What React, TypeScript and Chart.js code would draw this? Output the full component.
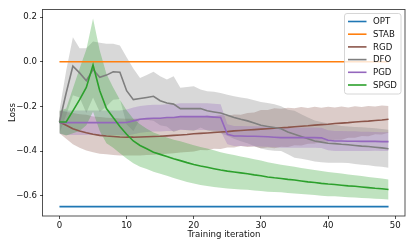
import React, { useEffect, useRef } from "react";
import { Chart, registerables } from "chart.js";

Chart.register(...registerables);

// ---------------- data ----------------
const iterations = [
  0, 1, 2, 3, 4, 5, 6, 7, 8, 9, 10, 11, 12, 13, 14, 15, 16, 17, 18, 19, 20, 21, 22, 23, 24,
  25, 26, 27, 28, 29, 30, 31, 32, 33, 34, 35, 36, 37, 38, 39, 40, 41, 42, 43, 44, 45, 46, 47, 48, 49,
];

const constantSpan = [0, 49];
const optLoss = [-0.649, -0.649];
const stabLoss = [0.0, 0.0];

const rgdMean = [
  -0.27, -0.285, -0.3, -0.31, -0.318, -0.325, -0.33, -0.333, -0.335, -0.337,
  -0.338, -0.338, -0.337, -0.336, -0.335, -0.334, -0.332, -0.33, -0.328, -0.326,
  -0.323, -0.321, -0.319, -0.317, -0.315, -0.313, -0.31, -0.308, -0.306, -0.304,
  -0.302, -0.3, -0.298, -0.296, -0.294, -0.291, -0.289, -0.287, -0.284, -0.282,
  -0.28, -0.277, -0.275, -0.273, -0.27, -0.268, -0.266, -0.263, -0.261, -0.258,
];
const rgdStd = [
  0.05, 0.06, 0.07, 0.075, 0.08, 0.08, 0.082, 0.082, 0.083, 0.083,
  0.082, 0.082, 0.083, 0.082, 0.082, 0.08, 0.08, 0.08, 0.079, 0.078,
  0.079, 0.074, 0.078, 0.073, 0.076, 0.071, 0.074, 0.07, 0.076, 0.076,
  0.086, 0.084, 0.09, 0.085, 0.088, 0.083, 0.086, 0.08, 0.082, 0.076,
  0.078, 0.072, 0.074, 0.068, 0.071, 0.065, 0.068, 0.062, 0.065, 0.06,
];

const dfoMean = [
  -0.27, -0.14, -0.02, -0.05, -0.085, -0.035, -0.07, -0.06, -0.045, -0.047,
  -0.13, -0.17, -0.165, -0.16, -0.155, -0.175, -0.185, -0.19, -0.21, -0.21,
  -0.21, -0.21, -0.22, -0.225, -0.23, -0.24, -0.25, -0.258, -0.265, -0.275,
  -0.285, -0.29, -0.295, -0.3, -0.315, -0.325, -0.335, -0.345, -0.355, -0.36,
  -0.365, -0.367, -0.37, -0.372, -0.375, -0.378, -0.38, -0.383, -0.386, -0.39,
];
const dfoStd = [
  0.05, 0.1, 0.13, 0.11, 0.145, 0.125, 0.155, 0.14, 0.125, 0.12,
  0.15, 0.14, 0.092, 0.1, 0.11, 0.11, 0.105, 0.125, 0.093, 0.097,
  0.1, 0.085, 0.088, 0.09, 0.09, 0.092, 0.095, 0.098, 0.1, 0.102,
  0.104, 0.105, 0.104, 0.1, 0.1, 0.105, 0.1, 0.095, 0.092, 0.09,
  0.088, 0.085, 0.082, 0.082, 0.083, 0.084, 0.084, 0.085, 0.085, 0.085,
];

const pgdMean = [
  -0.273, -0.273, -0.273, -0.273, -0.273, -0.273, -0.273, -0.273, -0.273, -0.273,
  -0.272, -0.265, -0.258, -0.255, -0.253, -0.253, -0.25, -0.25, -0.246, -0.246,
  -0.246, -0.246, -0.246, -0.248, -0.25, -0.325, -0.333, -0.333, -0.334, -0.334,
  -0.335, -0.336, -0.338, -0.34, -0.34, -0.34, -0.34, -0.34, -0.34, -0.341,
  -0.352, -0.355, -0.355, -0.356, -0.356, -0.357, -0.357, -0.357, -0.358, -0.358,
];
const pgdStd = [
  0.05, 0.055, 0.055, 0.055, 0.055, 0.055, 0.055, 0.055, 0.055, 0.055,
  0.058, 0.06, 0.06, 0.06, 0.06, 0.06, 0.06, 0.06, 0.06, 0.06,
  0.06, 0.06, 0.06, 0.06, 0.06, 0.045, 0.045, 0.045, 0.045, 0.045,
  0.045, 0.045, 0.045, 0.045, 0.045, 0.045, 0.045, 0.045, 0.045, 0.045,
  0.045, 0.045, 0.045, 0.044, 0.044, 0.043, 0.043, 0.042, 0.042, 0.042,
];

const spgdMean = [
  -0.27, -0.27, -0.22, -0.17, -0.115, -0.015, -0.13, -0.21, -0.25, -0.29,
  -0.325, -0.355, -0.375, -0.39, -0.405, -0.415, -0.425, -0.435, -0.443, -0.452,
  -0.46, -0.467, -0.473, -0.479, -0.485, -0.49, -0.494, -0.498, -0.502, -0.507,
  -0.511, -0.516, -0.52, -0.523, -0.527, -0.53, -0.534, -0.538, -0.541, -0.545,
  -0.548, -0.55, -0.553, -0.556, -0.558, -0.561, -0.564, -0.567, -0.569, -0.572,
];
const spgdStd = [
  0.05, 0.06, 0.1, 0.14, 0.17, 0.209, 0.18, 0.155, 0.135, 0.12,
  0.108, 0.1, 0.095, 0.09, 0.088, 0.087, 0.086, 0.086, 0.087, 0.087,
  0.086, 0.085, 0.084, 0.082, 0.08, 0.078, 0.076, 0.074, 0.072, 0.07,
  0.068, 0.066, 0.064, 0.062, 0.061, 0.06, 0.058, 0.057, 0.056, 0.055,
  0.054, 0.053, 0.052, 0.051, 0.05, 0.049, 0.048, 0.047, 0.046, 0.045,
];

const seriesNames = ["OPT", "STAB", "RGD", "DFO", "PGD", "SPGD"];
const xTicks = [0, 10, 20, 30, 40, 50];
const yTicks = [-0.6, -0.4, -0.2, 0.0, 0.2];
const xLabel = "Training iteration";
const yLabel = "Loss";

// ---------------- styles ----------------
const COLORS: Record<string, string> = {
  OPT: "#1f77b4",
  STAB: "#ff7f0e",
  RGD: "#8c564b",
  DFO: "#7f7f7f",
  PGD: "#9467bd",
  SPGD: "#2ca02c",
};
const BAND_ALPHA = 0.3;
const LINE_W = 1.6;
const FONT = "DejaVu Sans";
const W = 415;
const H = 247;

function rgba(hex: string, a: number) {
  const n = parseInt(hex.slice(1), 16);
  return `rgba(${(n >> 16) & 255},${(n >> 8) & 255},${n & 255},${a})`;
}

function pts(xs: number[], ys: number[]) {
  return xs.map((x, i) => ({ x, y: ys[i] }));
}
function bandPts(mean: number[], std: number[], sign: number) {
  return iterations.map((x, i) => ({ x, y: mean[i] + sign * std[i] }));
}

function fmtTick(v: number) {
  const s = Math.abs(v) < 1e-9 ? "0.0" : v.toFixed(1);
  return s.replace("-", "\u2212");
}

const framePlugin = {
  id: "frameAndLegend",
  afterDraw(chart: any) {
    const { ctx, chartArea } = chart;
    const { left, right, top, bottom } = chartArea;
    ctx.save();
    // axes frame
    ctx.strokeStyle = "rgba(0,0,0,0.75)";
    ctx.lineWidth = 0.9;
    ctx.strokeRect(Math.round(left) - 0.5, Math.round(top) + 0.5, Math.round(right - left) + 0.5, Math.round(bottom - top) - 0.5);

    // legend
    const fs = 8.6;
    const bx = 344.5;
    const by = 13.5;
    const bw = 56.5;
    const bh = 80.5;
    const r = 2.5;
    ctx.beginPath();
    ctx.moveTo(bx + r, by);
    ctx.lineTo(bx + bw - r, by);
    ctx.arcTo(bx + bw, by, bx + bw, by + r, r);
    ctx.lineTo(bx + bw, by + bh - r);
    ctx.arcTo(bx + bw, by + bh, bx + bw - r, by + bh, r);
    ctx.lineTo(bx + r, by + bh);
    ctx.arcTo(bx, by + bh, bx, by + bh - r, r);
    ctx.lineTo(bx, by + r);
    ctx.arcTo(bx, by, bx + r, by, r);
    ctx.closePath();
    ctx.fillStyle = "rgba(255,255,255,0.8)";
    ctx.fill();
    ctx.strokeStyle = "#cccccc";
    ctx.lineWidth = 0.8;
    ctx.stroke();

    ctx.font = `${fs}px "${FONT}"`;
    ctx.textBaseline = "middle";
    ctx.textAlign = "left";
    seriesNames.forEach((name, k) => {
      const y = 21.5 + k * 12.7;
      ctx.strokeStyle = COLORS[name];
      ctx.lineWidth = LINE_W;
      ctx.beginPath();
      ctx.moveTo(348, y);
      ctx.lineTo(366.5, y);
      ctx.stroke();
      ctx.fillStyle = "#111";
      ctx.fillText(name, 373, y + 0.5);
    });
    ctx.restore();
  },
};

export default function App() {
  const ref = useRef<HTMLCanvasElement | null>(null);

  useEffect(() => {
    if (!ref.current) return;

    const bands = [
      { name: "RGD", mean: rgdMean, std: rgdStd, order: 40 },
      { name: "DFO", mean: dfoMean, std: dfoStd, order: 30 },
      { name: "PGD", mean: pgdMean, std: pgdStd, order: 20 },
      { name: "SPGD", mean: spgdMean, std: spgdStd, order: 10 },
    ];

    const datasets: any[] = [];
    bands.forEach((b) => {
      datasets.push({
        label: b.name + " lower",
        data: bandPts(b.mean, b.std, -1),
        borderColor: "rgba(0,0,0,0)",
        borderWidth: 0,
        pointRadius: 0,
        fill: false,
        order: b.order,
      });
      datasets.push({
        label: b.name + " upper",
        data: bandPts(b.mean, b.std, 1),
        borderColor: "rgba(0,0,0,0)",
        borderWidth: 0,
        pointRadius: 0,
        backgroundColor: rgba(COLORS[b.name], BAND_ALPHA),
        fill: "-1",
        order: b.order,
      });
    });

    const lines = [
      { name: "OPT", data: pts(constantSpan, optLoss), order: 6 },
      { name: "STAB", data: pts(constantSpan, stabLoss), order: 5 },
      { name: "RGD", data: pts(iterations, rgdMean), order: 4 },
      { name: "DFO", data: pts(iterations, dfoMean), order: 3 },
      { name: "PGD", data: pts(iterations, pgdMean), order: 2 },
      { name: "SPGD", data: pts(iterations, spgdMean), order: 1 },
    ];
    lines.forEach((l) => {
      datasets.push({
        label: l.name,
        data: l.data,
        borderColor: COLORS[l.name],
        borderWidth: LINE_W,
        pointRadius: 0,
        fill: false,
        order: l.order,
        tension: 0,
      });
    });

    const tickFont = { family: FONT, size: 8.6 };

    const chart = new Chart(ref.current, {
      type: "line",
      data: { datasets },
      options: {
        animation: false,
        responsive: false,
        maintainAspectRatio: false,
        devicePixelRatio: 1,
        events: [],
        layout: { padding: { top: 9, right: 10, left: 0, bottom: 0 } },
        plugins: {
          legend: { display: false },
          tooltip: { enabled: false },
          title: { display: false },
        },
        scales: {
          x: {
            type: "linear",
            min: -2.45,
            max: 51.45,
            afterBuildTicks: (axis: any) => {
              axis.ticks = xTicks.map((value) => ({ value }));
            },
            afterFit: (scale: any) => {
              scale.height = 31;
            },
            grid: {
              display: true,
              drawOnChartArea: false,
              drawTicks: true,
              tickLength: 3,
              tickColor: "rgba(0,0,0,0.75)",
              tickWidth: 0.9,
            },
            border: { display: false },
            ticks: {
              autoSkip: false,
              maxRotation: 0,
              padding: 2,
              color: "#111",
              font: tickFont,
              callback: (v: any) => String(v),
            },
            title: {
              display: true,
              text: xLabel,
              color: "#111",
              font: { family: FONT, size: 8.6 },
              padding: { top: 0, bottom: 7 },
            },
          },
          y: {
            type: "linear",
            min: -0.691,
            max: 0.236,
            afterBuildTicks: (axis: any) => {
              axis.ticks = yTicks.map((value) => ({ value }));
            },
            afterFit: (scale: any) => {
              scale.width = 43;
            },
            grid: {
              display: true,
              drawOnChartArea: false,
              drawTicks: true,
              tickLength: 3,
              tickColor: "rgba(0,0,0,0.75)",
              tickWidth: 0.9,
            },
            border: { display: false },
            ticks: {
              autoSkip: false,
              padding: 3,
              color: "#111",
              font: tickFont,
              callback: (v: any) => fmtTick(Number(v)),
            },
            title: {
              display: true,
              text: yLabel,
              color: "#111",
              font: { family: FONT, size: 8.6 },
              padding: { top: 7.3, bottom: 0 },
            },
          },
        },
      },
      plugins: [framePlugin],
    } as any);

    return () => chart.destroy();
  }, []);

  return (
    <div style={{ position: "fixed", left: 0, top: 0, width: W, height: H, background: "#fff" }}>
      <canvas ref={ref} width={W} height={H} style={{ width: W, height: H, display: "block" }} />
    </div>
  );
}
